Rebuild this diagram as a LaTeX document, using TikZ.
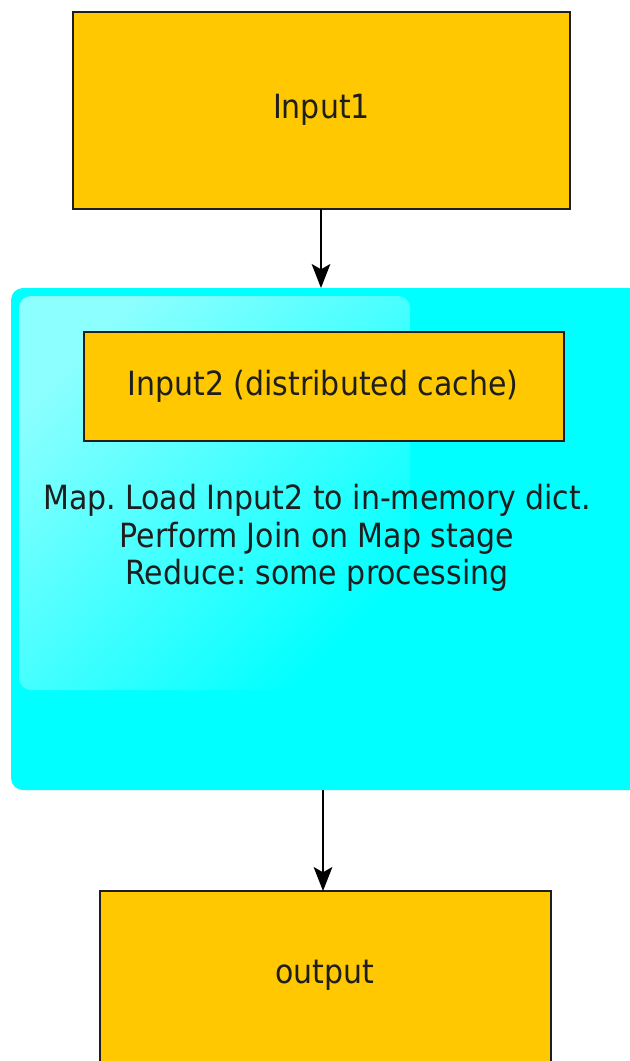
\documentclass[tikz,border=0pt]{standalone}
\usepackage{fontspec}
\setmainfont{DejaVu Sans Condensed}
\usetikzlibrary{arrows.meta,shadings}
\frenchspacing
\definecolor{boxorange}{HTML}{FFC800}
\definecolor{aqua}{HTML}{00FFFF}
\definecolor{ink}{HTML}{1E1E1E}
\tikzset{
  yellowbox/.style={draw=ink, line width=1.5pt, fill=boxorange},
  label text/.style={text=ink, font=\fontsize{25}{28}\selectfont\frenchspacing, align=center, inner sep=0pt},
  flow/.style={draw=black, line width=1.5pt, -{Stealth[length=18pt,width=14pt,inset=4pt]}}
}
\begin{document}
\begin{tikzpicture}[x=0.75pt, y=-0.75pt]
\useasboundingbox (0,0) rectangle (630,1061);
% cyan container
\fill[aqua, rounded corners=9pt] (11,288) rectangle (650,790);
\shade[shading=axis, top color=aqua!45!white, middle color=aqua!90!white, bottom color=aqua, shading angle=45, rounded corners=9pt]
  (19,296) -- (410,296) -- (410,690) -- (19,690) -- cycle;
\coordinate (ctop) at (321,288);
\coordinate (cbot) at (323,790);
% boxes
\draw[yellowbox] (73,12) rectangle (570,209);
\node[label text] (in1) at (321.5,110) {Input1};
\draw[yellowbox] (84,332) rectangle (564,441);
\node[label text] (in2) at (323,386) {Input2 (distributed cache)};
\node[label text] (txt) at (317,538) {Map. Load Input2 to in-memory dict.\\Perform Join on Map stage\\Reduce: some processing};
\draw[yellowbox] (100,891) rectangle (551,1070);
\node[label text] (out) at (325,975) {output};
\coordinate (in1b) at (321,209);
\coordinate (outt) at (323,891);
\draw[flow] (in1b) -- (ctop);
\draw[flow] (cbot) -- (outt);
\end{tikzpicture}
\end{document}
